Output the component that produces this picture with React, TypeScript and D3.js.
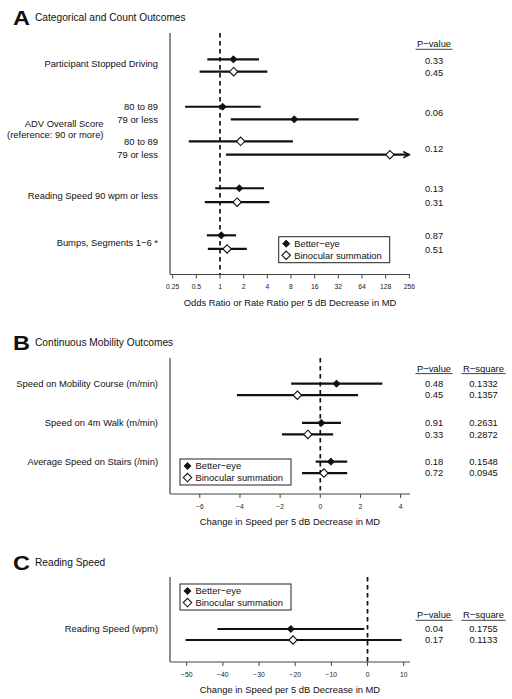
import React from "react";
import * as d3 from "d3";

// ---------- Data ----------
// Panel A: categorical / count outcomes (odds or rate ratios)
const aRowLabels = ["Participant Stopped Driving", "ADV 80 to 89", "ADV 79 or less", "Reading Speed 90 wpm or less", "Bumps, Segments 1\u22126 *"];
const aBetterEst = [1.48, 1.08, 8.8, 1.76, 1.04];
const aBetterLo = [0.69, 0.36, 1.37, 0.87, 0.68];
const aBetterHi = [3.13, 3.29, 58, 3.63, 1.6];
const aBinoEst = [1.49, 1.83, 145, 1.65, 1.23];
const aBinoLo = [0.55, 0.4, 1.19, 0.64, 0.7];
const aBinoHi = [4.0, 8.47, 400, 4.25, 2.19];
const aPBetter = ["0.33", "0.06", "0.13", "0.87"];
const aPBino = ["0.45", "0.12", "0.31", "0.51"];
const aTicks = [0.25, 0.5, 1, 2, 4, 8, 16, 32, 64, 128, 256];

// Panel B: continuous mobility outcomes
const bRowLabels = ["Speed on Mobility Course (m/min)", "Speed on 4m Walk (m/min)", "Average Speed on Stairs (/min)"];
const bBetterEst = [0.81, 0.05, 0.53];
const bBetterLo = [-1.45, -0.91, -0.23];
const bBetterHi = [3.09, 1.03, 1.34];
const bBinoEst = [-1.14, -0.62, 0.18];
const bBinoLo = [-4.15, -1.91, -0.91];
const bBinoHi = [1.88, 0.64, 1.34];
const bPBetter = ["0.48", "0.91", "0.18"];
const bPBino = ["0.45", "0.33", "0.72"];
const bRBetter = ["0.1332", "0.2631", "0.1548"];
const bRBino = ["0.1357", "0.2872", "0.0945"];
const bTicks = [-6, -4, -2, 0, 2, 4];

// Panel C: reading speed
const cRowLabels = ["Reading Speed (wpm)"];
const cBetterEst = [-21.2];
const cBetterLo = [-41.5];
const cBetterHi = [-0.9];
const cBinoEst = [-20.6];
const cBinoLo = [-50.3];
const cBinoHi = [9.4];
const cPBetter = ["0.04"];
const cPBino = ["0.17"];
const cRBetter = ["0.1755"];
const cRBino = ["0.1133"];
const cTicks = [-50, -40, -30, -20, -10, 0, 10];

const legendLabels = ["Better\u2212eye", "Binocular summation"];

// ---------- Layout ----------
const FONT = "'Liberation Sans', Arial, Helvetica, sans-serif";
const AX_L = 170;
const AX_R = 410;
const LABEL_R = 158;
const P_X = 434;
const R_X = 483.5;
const LBL_FS = 9.4;
const TICK_FS = 6.8;

const fmtMinus = (v: number) => (v < 0 ? "\u2212" + Math.abs(v) : String(v));

function Diamond({ x, y, filled }: { x: number; y: number; filled: boolean }) {
  const r = filled ? 3.6 : 4.2;
  return (
    <path
      d={`M${x},${y - r}L${x + r},${y}L${x},${y + r}L${x - r},${y}Z`}
      fill={filled ? "#111" : "#fff"}
      stroke="#111"
      strokeWidth={filled ? 0.8 : 1.1}
    />
  );
}

function CI({ x1, x2, xe, y, filled, arrow }: { x1: number; x2: number; xe: number; y: number; filled: boolean; arrow?: boolean }) {
  return (
    <g>
      <line x1={x1} x2={x2} y1={y} y2={y} stroke="#111" strokeWidth={2.2} />
      {arrow && (
        <path d={`M${x2 - 6},${y - 3.2}L${x2},${y}L${x2 - 6},${y + 3.2}`} fill="none" stroke="#111" strokeWidth={1.5} />
      )}
      <Diamond x={xe} y={y} filled={filled} />
    </g>
  );
}

function Title({ letter, text, y }: { letter: string; text: string; y: number }) {
  return (
    <g fontFamily={FONT}>
      <text x={13} y={y} dy="0.36em" fontSize={21} fontWeight={900} fill="#111" transform={`translate(${13},0) scale(1.12,1) translate(${-13},0)`}>
        {letter}
      </text>
      <text x={35} y={y} dy="0.35em" fontSize={10.2} fill="#111">
        {text}
      </text>
    </g>
  );
}

function Legend({ x, y }: { x: number; y: number }) {
  const w = 111;
  const h = 26;
  return (
    <g fontFamily={FONT}>
      <rect x={x} y={y} width={w} height={h} fill="#fff" stroke="#222" strokeWidth={1} />
      {legendLabels.map((l, i) => (
        <g key={l}>
          <Diamond x={x + 7.5} y={y + 7 + i * 11.6} filled={i === 0} />
          <text x={x + 15.5} y={y + 7 + i * 11.6} dy="0.35em" fontSize={LBL_FS} fill="#111">
            {l}
          </text>
        </g>
      ))}
    </g>
  );
}

function Header({ x, y, text }: { x: number; y: number; text: string }) {
  const half = text === "P\u2212value" ? 18.5 : 22;
  return (
    <g fontFamily={FONT}>
      <text x={x} y={y} dy="0.35em" textAnchor="middle" fontSize={LBL_FS} fill="#111">
        {text}
      </text>
      <line x1={x - half} x2={x + half} y1={y + 5.3} y2={y + 5.3} stroke="#111" strokeWidth={0.8} />
    </g>
  );
}

function Axes({ top, bottom, zeroX, ticks, xs, title }: { top: number; bottom: number; zeroX: number; ticks: number[]; xs: (v: number) => number; title: string }) {
  return (
    <g fontFamily={FONT}>
      <line x1={AX_L} x2={AX_L} y1={top} y2={bottom} stroke="#444" strokeWidth={1.2} />
      <line x1={AX_L} x2={AX_R} y1={bottom} y2={bottom} stroke="#444" strokeWidth={1.2} />
      <line x1={zeroX} x2={zeroX} y1={top} y2={bottom} stroke="#111" strokeWidth={1.7} strokeDasharray="4.5 3.5" />
      {ticks.map((t) => (
        <g key={t}>
          <line x1={xs(t)} x2={xs(t)} y1={bottom} y2={bottom + 4} stroke="#444" strokeWidth={1} />
          <text x={xs(t)} y={bottom + 12.5} dy="0.35em" textAnchor="middle" fontSize={TICK_FS} fill="#222">
            {fmtMinus(t)}
          </text>
        </g>
      ))}
      <text x={290} y={bottom + 28} dy="0.35em" textAnchor="middle" fontSize={LBL_FS} fill="#111">
        {title}
      </text>
    </g>
  );
}

export default function App() {
  // ---- Panel A ----
  const xA = d3.scaleLog().base(2).domain([0.25, 256]).range([172.7, 409.3]);
  const yA = d3.scaleLinear().domain([0, 1]).range([59.3, 72.3]);
  // slot positions (in row units) for better/binocular rows of each outcome
  const aBetterSlots = [0, 3.65, 4.62, 9.92, 13.54];
  const aBinoSlots = [0.95, 6.31, 7.34, 10.99, 14.59];
  const aMax = 256;

  // ---- Panel B ----
  const xB = d3.scaleLinear().domain([-6, 4]).range([199.8, 400.6]);
  const yB = d3.scaleLinear().domain([0, 1]).range([383.7, 395.2]);
  const bBetterSlots = [0, 3.41, 6.78];
  const bBinoSlots = [1, 4.41, 7.77];

  // ---- Panel C ----
  const xC = d3.scaleLinear().domain([-50, 10]).range([186.7, 403.7]);
  const yC = d3.scaleLinear().domain([0, 1]).range([629, 640]);

  return (
    <svg width={512} height={699} style={{ position: "absolute", left: 0, top: 0, background: "#fff" }} fontFamily={FONT}>
      <rect width={512} height={699} fill="#fff" />

      {/* ===== Panel A ===== */}
      <Title letter="A" text="Categorical and Count Outcomes" y={17.5} />
      <Axes top={33} bottom={274.5} zeroX={xA(1)} ticks={aTicks} xs={(v) => xA(v)} title="Odds Ratio or Rate Ratio per 5 dB Decrease in MD" />
      {aRowLabels.map((_, i) => (
        <g key={"a" + i}>
          <CI x1={xA(aBetterLo[i])} x2={xA(Math.min(aBetterHi[i], aMax))} xe={xA(aBetterEst[i])} y={yA(aBetterSlots[i])} filled={true} arrow={aBetterHi[i] > aMax} />
          <CI x1={xA(aBinoLo[i])} x2={xA(Math.min(aBinoHi[i], aMax))} xe={xA(aBinoEst[i])} y={yA(aBinoSlots[i])} filled={false} arrow={aBinoHi[i] > aMax} />
        </g>
      ))}
      <g fontSize={LBL_FS} fill="#111" textAnchor="end">
        <text x={LABEL_R} y={64} dy="0.35em">{aRowLabels[0]}</text>
        <text x={LABEL_R} y={yA(aBetterSlots[1])} dy="0.35em">80 to 89</text>
        <text x={LABEL_R} y={yA(aBetterSlots[2])} dy="0.35em">79 or less</text>
        <text x={LABEL_R} y={yA(aBinoSlots[1])} dy="0.35em">80 to 89</text>
        <text x={LABEL_R} y={yA(aBinoSlots[2])} dy="0.35em">79 or less</text>
        <text x={103.5} y={123.3} dy="0.35em">ADV Overall Score</text>
        <text x={103.5} y={135} dy="0.35em">(reference: 90 or more)</text>
        <text x={LABEL_R} y={195.7} dy="0.35em">{aRowLabels[3]}</text>
        <text x={LABEL_R} y={242.7} dy="0.35em">{aRowLabels[4]}</text>
      </g>
      <Header x={P_X} y={44} text={"P\u2212value"} />
      <g fontSize={LBL_FS} fill="#111" textAnchor="middle">
        <text x={P_X} y={60.7} dy="0.35em">{aPBetter[0]}</text>
        <text x={P_X} y={72.3} dy="0.35em">{aPBino[0]}</text>
        <text x={P_X} y={113} dy="0.35em">{aPBetter[1]}</text>
        <text x={P_X} y={148.3} dy="0.35em">{aPBino[1]}</text>
        <text x={P_X} y={188.7} dy="0.35em">{aPBetter[2]}</text>
        <text x={P_X} y={202.3} dy="0.35em">{aPBino[2]}</text>
        <text x={P_X} y={235.7} dy="0.35em">{aPBetter[3]}</text>
        <text x={P_X} y={249.3} dy="0.35em">{aPBino[3]}</text>
      </g>
      <Legend x={278.7} y={236.7} />

      {/* ===== Panel B ===== */}
      <Title letter="B" text="Continuous Mobility Outcomes" y={342} />
      <Axes top={358} bottom={494} zeroX={xB(0)} ticks={bTicks} xs={(v) => xB(v)} title="Change in Speed per 5 dB Decrease in MD" />
      {bRowLabels.map((l, i) => (
        <g key={"b" + i}>
          <CI x1={xB(bBetterLo[i])} x2={xB(bBetterHi[i])} xe={xB(bBetterEst[i])} y={yB(bBetterSlots[i])} filled={true} />
          <CI x1={xB(bBinoLo[i])} x2={xB(bBinoHi[i])} xe={xB(bBinoEst[i])} y={yB(bBinoSlots[i])} filled={false} />
          <text x={LABEL_R} y={yB(bBetterSlots[i])} dy="0.35em" textAnchor="end" fontSize={LBL_FS} fill="#111">{l}</text>
          <text x={P_X} y={yB(bBetterSlots[i])} dy="0.35em" textAnchor="middle" fontSize={LBL_FS} fill="#111">{bPBetter[i]}</text>
          <text x={P_X} y={yB(bBinoSlots[i])} dy="0.35em" textAnchor="middle" fontSize={LBL_FS} fill="#111">{bPBino[i]}</text>
          <text x={R_X} y={yB(bBetterSlots[i])} dy="0.35em" textAnchor="middle" fontSize={LBL_FS} fill="#111">{bRBetter[i]}</text>
          <text x={R_X} y={yB(bBinoSlots[i])} dy="0.35em" textAnchor="middle" fontSize={LBL_FS} fill="#111">{bRBino[i]}</text>
        </g>
      ))}
      <Header x={P_X} y={368.3} text={"P\u2212value"} />
      <Header x={R_X} y={368.3} text={"R\u2212square"} />
      <Legend x={180} y={459} />

      {/* ===== Panel C ===== */}
      <Title letter="C" text="Reading Speed" y={562.3} />
      <Axes top={577} bottom={662} zeroX={xC(0)} ticks={cTicks} xs={(v) => xC(v)} title="Change in Speed per 5 dB Decrease in MD" />
      {cRowLabels.map((l, i) => (
        <g key={"c" + i}>
          <CI x1={xC(cBetterLo[i])} x2={xC(cBetterHi[i])} xe={xC(cBetterEst[i])} y={yC(0)} filled={true} />
          <CI x1={xC(cBinoLo[i])} x2={xC(cBinoHi[i])} xe={xC(cBinoEst[i])} y={yC(1)} filled={false} />
          <text x={LABEL_R} y={yC(0)} dy="0.35em" textAnchor="end" fontSize={LBL_FS} fill="#111">{l}</text>
          <text x={P_X} y={yC(0)} dy="0.35em" textAnchor="middle" fontSize={LBL_FS} fill="#111">{cPBetter[i]}</text>
          <text x={P_X} y={yC(1)} dy="0.35em" textAnchor="middle" fontSize={LBL_FS} fill="#111">{cPBino[i]}</text>
          <text x={R_X} y={yC(0)} dy="0.35em" textAnchor="middle" fontSize={LBL_FS} fill="#111">{cRBetter[i]}</text>
          <text x={R_X} y={yC(1)} dy="0.35em" textAnchor="middle" fontSize={LBL_FS} fill="#111">{cRBino[i]}</text>
        </g>
      ))}
      <Header x={P_X} y={615} text={"P\u2212value"} />
      <Header x={R_X} y={615} text={"R\u2212square"} />
      <Legend x={180} y={584} />
    </svg>
  );
}
